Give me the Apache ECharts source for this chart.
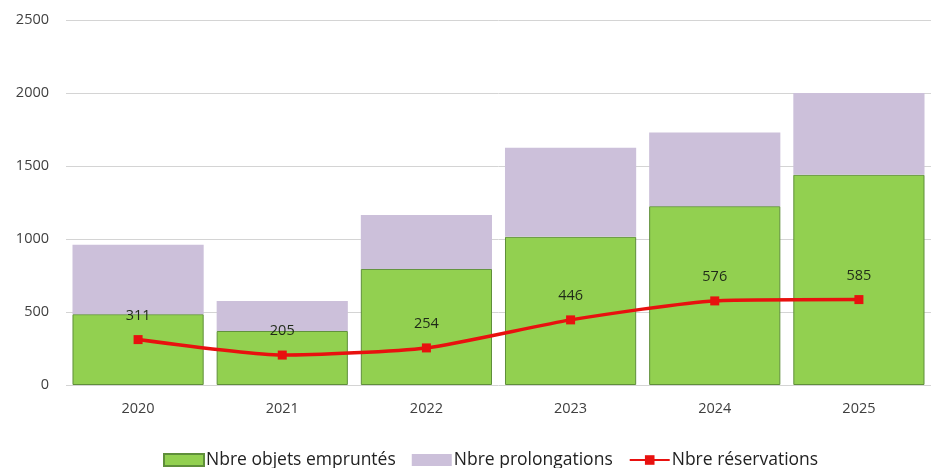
<!DOCTYPE html>
<html><head><meta charset="utf-8">
<script src="https://cdn.jsdelivr.net/npm/echarts@6/dist/echarts.min.js"></script>
<style>html,body{margin:0;padding:0;background:#fff}#c{width:931px;height:468px}</style>
</head><body><div id="c"></div>
<script>
const categories = ['2020','2021','2022','2023','2024','2025'];
const emprunts = [485, 370, 795, 1015, 1225, 1440];
const prolongations = [475, 205, 370, 610, 505, 560];
const reservations = [311, 205, 254, 446, 576, 585];
const yTicks = {min: 0, max: 2500, interval: 500};

const chart = echarts.init(document.getElementById('c'));
chart.setOption({
  animation: false,
  grid: {left: 66, right: 0, top: 20, bottom: 83},
  legend: {
    top: 446, left: 158, itemGap: 16, itemWidth: 40, itemHeight: 12,
    textStyle: {fontFamily: 'Open Sans', fontSize: 17.5, color: '#222', padding: [0, 0, 0, -3]},
    data: [
      {name: 'Nbre objets empruntés', icon: 'rect'},
      {name: 'Nbre prolongations', icon: 'rect'},
      {name: 'Nbre réservations'}
    ]
  },
  xAxis: {
    type: 'category', data: categories,
    axisLine: {show: false}, axisTick: {show: false},
    axisLabel: {fontFamily: 'Open Sans', fontSize: 14.5, color: '#404040', margin: 16}
  },
  yAxis: {
    type: 'value', min: yTicks.min, max: yTicks.max, interval: yTicks.interval,
    axisLabel: {fontFamily: 'Open Sans', fontSize: 14.5, color: '#404040', margin: 17,
                formatter: v => String(v)},
    splitLine: {lineStyle: {color: '#d4d4d4', width: 1}}
  },
  series: [
    {name: 'Nbre objets empruntés', type: 'bar', stack: 's', data: emprunts, barCategoryGap: '9%',
     itemStyle: {color: '#92d050', borderColor: '#5f8f3a', borderWidth: 1}},
    {name: 'Nbre prolongations', type: 'bar', stack: 's', data: prolongations,
     itemStyle: {color: '#ccc0da'}},
    {name: 'Nbre réservations', type: 'line', data: reservations, smooth: 0.2,
     symbol: 'rect', symbolSize: 9,
     lineStyle: {color: '#e8110f', width: 3.5}, itemStyle: {color: '#e8110f'},
     label: {show: true, position: 'top', distance: 12, fontFamily: 'Open Sans', fontSize: 14.5, color: '#1f2a18'}}
  ]
});
</script></body></html>
